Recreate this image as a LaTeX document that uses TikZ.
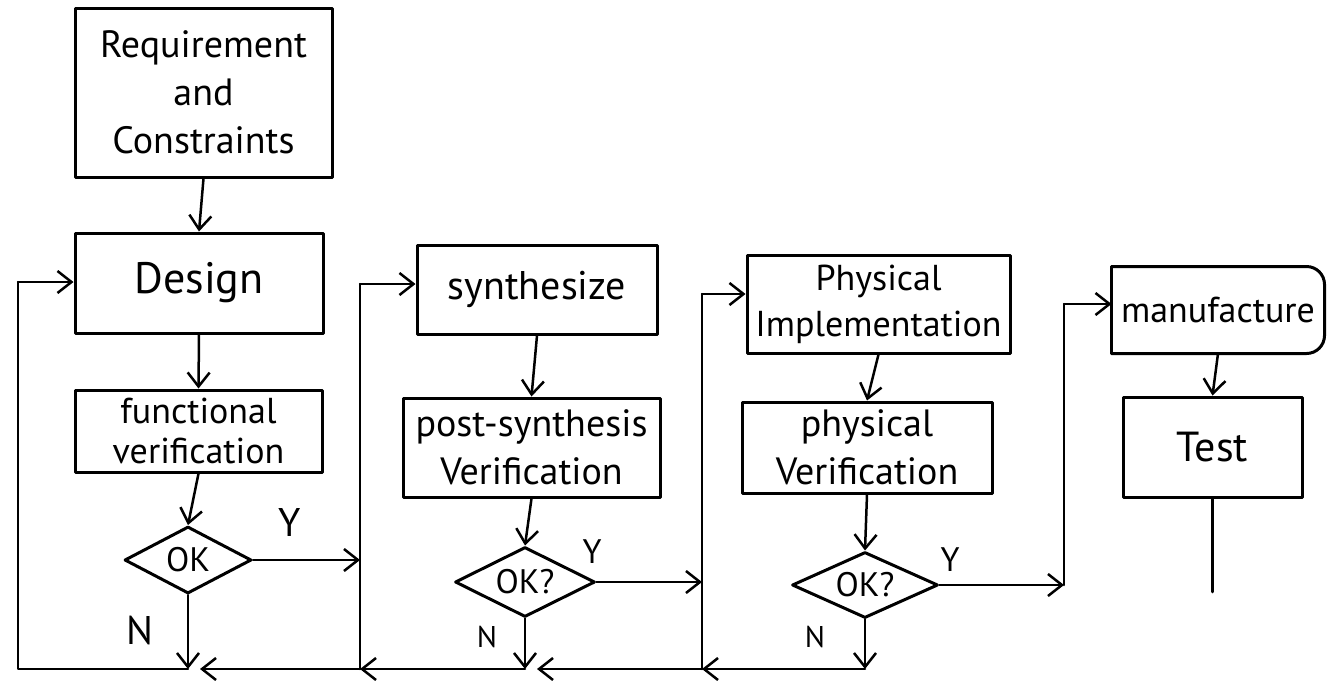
\documentclass[tikz,border=0pt]{standalone}
\usepackage{fontspec}
\setmainfont{PT Sans}
\usetikzlibrary{arrows.meta,shapes.geometric}
\begin{document}
\begin{tikzpicture}[x=1pt,y=-1pt,>={Straight Barb[length=14pt,width=22pt]},line width=2.5pt,line join=round,line cap=round,
  box/.style={draw,line width=3pt,align=center,inner sep=0pt,font=\fontsize{38}{48}\selectfont},
  okbox/.style={draw,diamond,aspect=2,line width=3pt,inner sep=0pt,font=\fontsize{34}{40}\selectfont},
  yn/.style={font=\fontsize{40}{40}\selectfont}]
\useasboundingbox (0,0) rectangle (1337,681);
% design column
\node[box,minimum width=257pt,minimum height=169pt] (req) at (203.5,92.5) {Requirement\\and\\Constraints};
\node[box,minimum width=248pt,minimum height=100pt,font=\fontsize{44}{48}\selectfont] (design) at (199,283) {Design};
\node[box,minimum width=247pt,minimum height=82pt,font=\fontsize{36}{40}\selectfont] (func) at (198.5,431) {functional\\verification};
\node[okbox,minimum width=127pt,minimum height=67pt] (ok1) at (188,560) {OK};
% synthesis column
\node[box,minimum width=240pt,minimum height=89pt,font=\fontsize{40}{48}\selectfont] (synth) at (537,289.5) {synthesize};
\node[box,minimum width=257pt,minimum height=99pt] (post) at (531.5,447.5) {post-synthesis\\Verification};
\node[okbox,minimum width=140pt,minimum height=70pt] (ok2) at (525,582) {OK?};
% physical column
\node[box,minimum width=263pt,minimum height=98pt,font=\fontsize{36}{46}\selectfont] (impl) at (878.5,304) {Physical\\Implementation};
\node[box,minimum width=250pt,minimum height=91pt] (pver) at (867,447.5) {physical\\Verification};
\node[okbox,minimum width=146pt,minimum height=66pt] (ok3) at (865,585) {OK?};
% last column
\node[box,draw=none,minimum width=210pt,minimum height=84pt,font=\fontsize{36}{48}\selectfont] (manu) at (1218,310) {manufacture};
\draw[line width=3pt,rounded corners=18pt] (manu.north west) -- (manu.north east) -- (manu.south east) -- (manu.south west);
\draw[line width=3pt] (manu.south west) -- (manu.north west);
\node[box,minimum width=179pt,minimum height=100pt,font=\fontsize{42}{48}\selectfont] (test) at (1212.5,447) {Test};

% Y / N labels
\node[yn] (y1) at (290,522) {Y};
\node[yn] (n1l) at (140,630) {N};
\node[yn,font=\fontsize{34}{34}\selectfont] (y2) at (592,552) {Y};
\node[yn,font=\fontsize{30}{30}\selectfont] (n2l) at (487,637) {N};
\node[yn,font=\fontsize{34}{34}\selectfont] (y3) at (950,560) {Y};
\node[yn,font=\fontsize{30}{30}\selectfont] (n3l) at (815,637) {N};

% rails
\coordinate (c1t) at (18,282);  \coordinate (c1b) at (18,669);
\coordinate (c2t) at (360,284); \coordinate (c2b) at (360,669);
\coordinate (c3t) at (702,294); \coordinate (c3b) at (702,669);
\coordinate (c4t) at (1064,304); \coordinate (c4b) at (1064,585);
\coordinate (n1) at (ok1.south |- c1b);
\coordinate (n2) at (ok2.south |- c2b);
\coordinate (n3) at (ok3.south |- c3b);
\coordinate (tend) at (1212.5,592);

% down the columns
\draw[->] (req.south) -- (design.north);
\draw[->] (design.south) -- (func.north);
\draw[->] (func.south) -- (ok1.north);
\draw[->] (synth.south) -- (post.north);
\draw[->] (post.south) -- (ok2.north);
\draw[->] (impl.south) -- (pver.north);
\draw[->] (pver.south) -- (ok3.north);
\draw[->] (manu.south) -- (test.north);
\draw (test.south) -- (tend);

% yes branches
\draw[->] (ok1.east) -- (ok1.east -| c2b);
\draw[->] (ok2.east) -- (ok2.east -| c3b);
\draw[->] (ok3.east) -- (c4b);

% no branches and the feedback line
\draw[->] (ok1.south) -- (n1);
\draw[->] (ok2.south) -- (n2);
\draw[->] (ok3.south) -- (n3);
\draw[->] (n3) -- (c3b);
\draw[->] (c3b) -- ([xshift=12pt]n2);
\draw[->] (n2) -- (c2b);
\draw[->] (c2b) -- ([xshift=12pt]n1);
\draw (n1) -- (c1b) -- (c1t);
\draw[->] (c1t) -- (c1t -| design.west);
\draw (c2b) -- (c2t);
\draw[->] (c2t) -- (c2t -| synth.west);
\draw (c3b) -- (c3t);
\draw[->] (c3t) -- (c3t -| impl.west);
\draw (c4b) -- (c4t);
\draw[->] (c4t) -- (c4t -| manu.west);
\end{tikzpicture}
\end{document}
